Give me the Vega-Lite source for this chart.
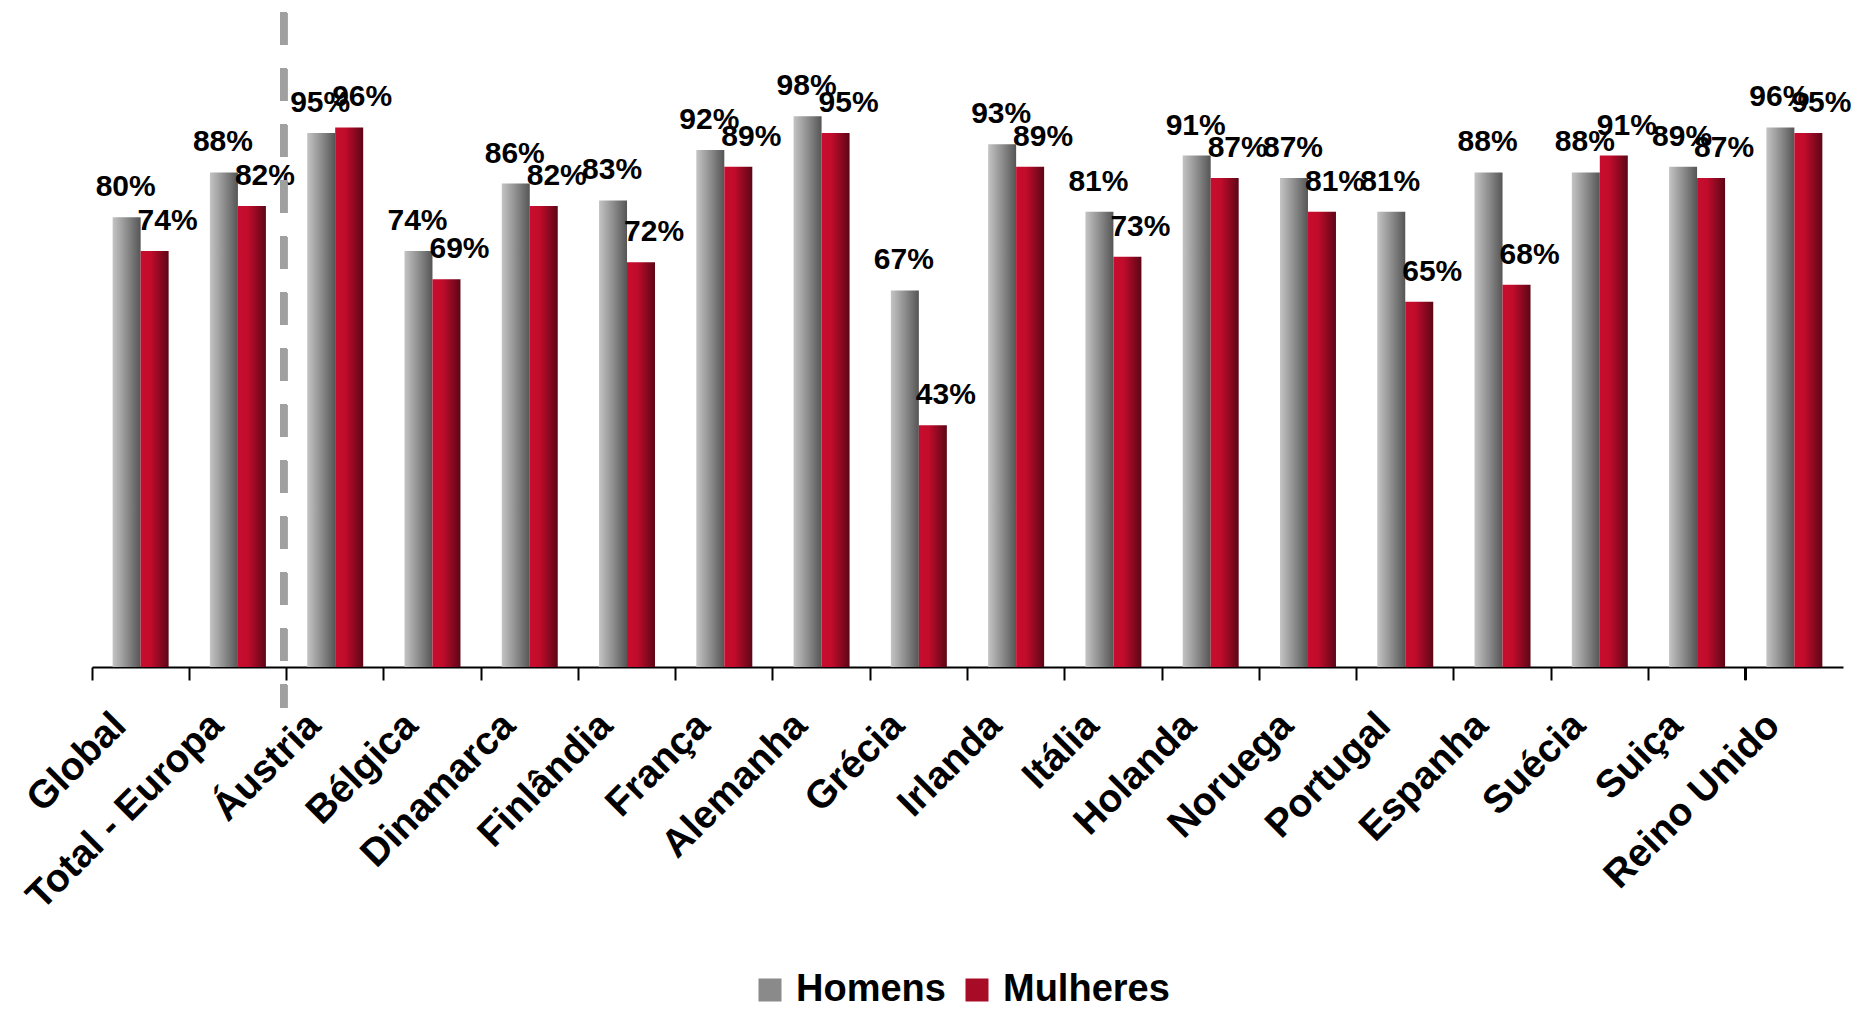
{
  "$schema": "https://vega.github.io/schema/vega-lite/v6.json",
  "autosize": "none",
  "width": 1751,
  "height": 652,
  "padding": {"left": 92, "top": 15, "right": 26, "bottom": 342},
  "background": "white",
  "config": {
    "view": {"stroke": null},
    "font": "Liberation Sans"
  },
  "data": {
    "values": [
      {"pais": "Global", "sexo": "Homens", "v": 0.80},
      {"pais": "Global", "sexo": "Mulheres", "v": 0.74},
      {"pais": "Total - Europa", "sexo": "Homens", "v": 0.88},
      {"pais": "Total - Europa", "sexo": "Mulheres", "v": 0.82},
      {"pais": "Áustria", "sexo": "Homens", "v": 0.95},
      {"pais": "Áustria", "sexo": "Mulheres", "v": 0.96},
      {"pais": "Bélgica", "sexo": "Homens", "v": 0.74},
      {"pais": "Bélgica", "sexo": "Mulheres", "v": 0.69},
      {"pais": "Dinamarca", "sexo": "Homens", "v": 0.86},
      {"pais": "Dinamarca", "sexo": "Mulheres", "v": 0.82},
      {"pais": "Finlândia", "sexo": "Homens", "v": 0.83},
      {"pais": "Finlândia", "sexo": "Mulheres", "v": 0.72},
      {"pais": "França", "sexo": "Homens", "v": 0.92},
      {"pais": "França", "sexo": "Mulheres", "v": 0.89},
      {"pais": "Alemanha", "sexo": "Homens", "v": 0.98},
      {"pais": "Alemanha", "sexo": "Mulheres", "v": 0.95},
      {"pais": "Grécia", "sexo": "Homens", "v": 0.67},
      {"pais": "Grécia", "sexo": "Mulheres", "v": 0.43},
      {"pais": "Irlanda", "sexo": "Homens", "v": 0.93},
      {"pais": "Irlanda", "sexo": "Mulheres", "v": 0.89},
      {"pais": "Itália", "sexo": "Homens", "v": 0.81},
      {"pais": "Itália", "sexo": "Mulheres", "v": 0.73},
      {"pais": "Holanda", "sexo": "Homens", "v": 0.91},
      {"pais": "Holanda", "sexo": "Mulheres", "v": 0.87},
      {"pais": "Noruega", "sexo": "Homens", "v": 0.87},
      {"pais": "Noruega", "sexo": "Mulheres", "v": 0.81},
      {"pais": "Portugal", "sexo": "Homens", "v": 0.81},
      {"pais": "Portugal", "sexo": "Mulheres", "v": 0.65},
      {"pais": "Espanha", "sexo": "Homens", "v": 0.88},
      {"pais": "Espanha", "sexo": "Mulheres", "v": 0.68},
      {"pais": "Suécia", "sexo": "Homens", "v": 0.88},
      {"pais": "Suécia", "sexo": "Mulheres", "v": 0.91},
      {"pais": "Suiça", "sexo": "Homens", "v": 0.89},
      {"pais": "Suiça", "sexo": "Mulheres", "v": 0.87},
      {"pais": "Reino Unido", "sexo": "Homens", "v": 0.96},
      {"pais": "Reino Unido", "sexo": "Mulheres", "v": 0.95}
    ]
  },
  "encoding": {
    "x": {
      "field": "pais",
      "type": "nominal",
      "scale": {
        "domain": ["Global", "Total - Europa", "Áustria", "Bélgica", "Dinamarca", "Finlândia", "França", "Alemanha", "Grécia", "Irlanda", "Itália", "Holanda", "Noruega", "Portugal", "Espanha", "Suécia", "Suiça", "Reino Unido"],
        "paddingInner": 0,
        "paddingOuter": 0
      },
      "axis": {
        "title": null,
        "bandPosition": 0,
        "domainColor": "#000000",
        "domainWidth": 2,
        "tickColor": "#000000",
        "tickWidth": 2,
        "tickSize": 13,
        "labelAngle": -45,
        "labelAlign": "right",
        "labelBaseline": "middle",
        "labelOffset": -21,
        "labelPadding": 39,
        "labelFont": "Liberation Sans",
        "labelFontWeight": "bold",
        "labelFontSize": 39,
        "labelColor": "#000000",
        "labelLimit": 0,
        "labelOverlap": false,
        "labelBound": false
      }
    },
    "xOffset": {
      "field": "sexo",
      "type": "nominal",
      "scale": {"domain": ["Homens", "Mulheres"], "paddingInner": 0, "paddingOuter": 0.7375}
    },
    "y": {
      "field": "v",
      "type": "quantitative",
      "scale": {"domain": [0, 1.16], "nice": false, "zero": true},
      "axis": null
    }
  },
  "layer": [
    {
      "transform": [{"filter": "datum.sexo === 'Homens'"}],
      "mark": {"type": "bar", "color": {"gradient": "linear", "x1": 0, "y1": 0, "x2": 1, "y2": 0, "stops": [
        {"offset": 0, "color": "#c4c4c4"},
        {"offset": 0.5, "color": "#8e8e8e"},
        {"offset": 1, "color": "#555555"}
      ]}}
    },
    {
      "transform": [{"filter": "datum.sexo === 'Mulheres'"}],
      "mark": {"type": "bar", "color": {"gradient": "linear", "x1": 0, "y1": 0, "x2": 1, "y2": 0, "stops": [
        {"offset": 0, "color": "#c80d2e"},
        {"offset": 0.35, "color": "#c20c2c"},
        {"offset": 1, "color": "#5c0616"}
      ]}}
    },
    {
      "mark": {"type": "bar", "opacity": 0},
      "encoding": {
        "color": {
          "field": "sexo",
          "type": "nominal",
          "scale": {"domain": ["Homens", "Mulheres"], "range": ["#8a8a8a", "#a80b26"]},
          "legend": {
            "title": null,
            "orient": "none",
            "legendX": 659,
            "legendY": 956,
            "direction": "horizontal",
            "padding": 0,
            "symbolType": "square",
            "symbolSize": 529,
            "symbolStrokeWidth": 0,
            "symbolOpacity": 1,
            "labelFont": "Liberation Sans",
            "labelFontWeight": "bold",
            "labelFontSize": 38,
            "labelColor": "#000000",
            "labelOffset": 7,
            "columnPadding": 12,
            "labelLimit": 0
          }
        }
      }
    },
    {
      "transform": [{"filter": "datum.sexo === 'Homens'"}],
      "mark": {"type": "text", "baseline": "alphabetic", "align": "center", "dy": -21, "dx": -1, "font": "Liberation Sans", "fontWeight": "bold", "fontSize": 30, "color": "#000000"},
      "encoding": {
        "text": {"field": "v", "type": "quantitative", "format": ".0%"}
      }
    },
    {
      "transform": [{"filter": "datum.sexo === 'Mulheres'"}],
      "mark": {"type": "text", "baseline": "alphabetic", "align": "center", "dy": -21, "dx": 13, "font": "Liberation Sans", "fontWeight": "bold", "fontSize": 30, "color": "#000000"},
      "encoding": {
        "text": {"field": "v", "type": "quantitative", "format": ".0%"}
      }
    },
    {
      "mark": {"type": "rule", "color": "#a0a0a0", "strokeWidth": 7, "strokeDash": [32, 24], "strokeCap": "butt"},
      "encoding": {
        "x": {"datum": "Áustria", "bandPosition": 0},
        "xOffset": {"value": -3},
        "y": {"datum": 1.164},
        "y2": {"datum": -0.073}
      }
    },
    {
      "mark": {"type": "rule", "color": "#000000", "strokeWidth": 2},
      "encoding": {
        "x": {"datum": "Reino Unido", "bandPosition": 1},
        "xOffset": {"value": 0},
        "y": {"datum": 0},
        "y2": {"datum": -0.0231}
      }
    }
  ]
}
